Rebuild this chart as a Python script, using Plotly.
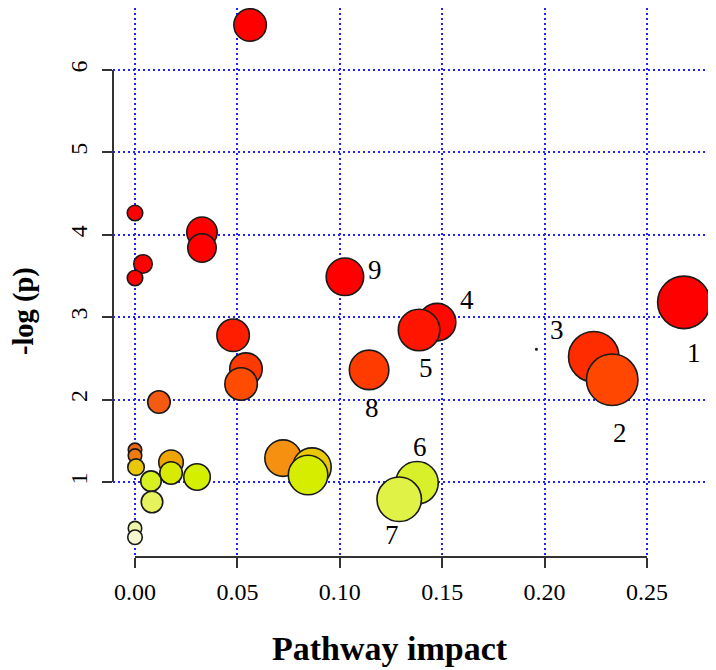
import plotly.graph_objects as go

# ---- data ----
impact = [0.0562, 0.000, 0.0327, 0.0327, 0.0039, 0.1025, 0.000, 0.268, 0.1475, 0.1387,
          0.0479, 0.196, 0.224, 0.0542, 0.1143, 0.233, 0.0518, 0.0117, 0.000, 0.000,
          0.0723, 0.0176, 0.0864, 0.0005, 0.0176, 0.0845, 0.0303, 0.0078, 0.1377, 0.129,
          0.0083, 0.000, 0.000]
neg_log_p = [6.546, 4.265, 4.03, 3.84, 3.646, 3.49, 3.476, 3.18, 2.94, 2.845,
             2.78, 2.61, 2.52, 2.37, 2.36, 2.24, 2.19, 1.97, 1.39, 1.32,
             1.29, 1.24, 1.18, 1.18, 1.11, 1.085, 1.06, 1.01, 0.99, 0.79,
             0.757, 0.44, 0.33]
node_size = [34, 17, 32, 30, 20, 39, 17, 54, 39, 43,
             34, 2, 52, 34, 41, 53, 34, 24, 15, 15,
             38, 26, 40, 18, 24, 41, 28, 22, 44, 46,
             23, 15, 16]
labels = ["", "", "", "", "", "9", "", "1", "4", "5",
          "", "3", "", "", "8", "2", "", "", "", "",
          "", "", "", "", "", "", "", "", "6", "7",
          "", "", ""]
x_ticks = [0.00, 0.05, 0.10, 0.15, 0.20, 0.25]
x_ticklabels = ["0.00", "0.05", "0.10", "0.15", "0.20", "0.25"]
y_ticks = [1, 2, 3, 4, 5, 6]
y_ticklabels = ["1", "2", "3", "4", "5", "6"]

# ---- styling ----
heat_scale = [
    [0.000, "#f8f9dc"], [0.052, "#eff5a8"], [0.170, "#e6f25e"], [0.185, "#e0f240"],
    [0.259, "#d8f028"], [0.281, "#d4f000"], [0.300, "#d8ea00"], [0.326, "#e8c808"],
    [0.348, "#f0a400"], [0.367, "#f59010"], [0.378, "#f07c10"], [0.404, "#ec6a14"],
    [0.619, "#f45a10"], [0.700, "#ff4c00"], [0.767, "#ff3a00"], [0.822, "#ff2c00"],
    [0.919, "#ff1e00"], [1.000, "#ff0000"],
]
label_offset = {  # pixel offset of the number label from its bubble centre (dx right, dy down)
    "1": (10, 51), "2": (8, 53), "3": (21, -19), "4": (30, -22), "5": (7, 38),
    "6": (3, -36), "7": (-7, 36), "8": (3, 38), "9": (30, -7),
}
SERIF = "Liberation Serif, Times New Roman, serif"
GRID = "#2222ff"
AXC = "#333333"

fig = go.Figure()
fig.add_trace(go.Scatter(
    x=impact, y=neg_log_p, mode="markers",
    marker=dict(size=[max(s - 1.5, 1.5) for s in node_size], sizemode="diameter",
                color=neg_log_p, colorscale=heat_scale, cmin=0.3, cmax=3.0,
                line=dict(color="#1a1a1a", width=1.6), opacity=1),
    cliponaxis=False, hoverinfo="x+y", showlegend=False,
))

for xi, yi, lab in zip(impact, neg_log_p, labels):
    if lab:
        dx, dy = label_offset[lab]
        fig.add_annotation(x=xi, y=yi, text=lab, showarrow=False, xshift=dx, yshift=-dy,
                           xanchor="center", yanchor="middle",
                           font=dict(family=SERIF, size=27, color="#000"))

# R-style axis lines spanning the tick range only
fig.add_shape(type="line", xref="x", yref="paper", x0=x_ticks[0], x1=x_ticks[-1], y0=0, y1=0,
              line=dict(color=AXC, width=2))
fig.add_shape(type="line", xref="paper", yref="y", x0=0, x1=0, y0=y_ticks[0], y1=y_ticks[-1],
              line=dict(color=AXC, width=2))

# axis titles
fig.add_annotation(xref="paper", yref="paper", x=0.467, y=-0.1658, xanchor="center", yanchor="middle",
                   text="<b>Pathway impact</b>",
                   showarrow=False, font=dict(family=SERIF, size=34, color="#000"))
fig.add_annotation(xref="paper", yref="paper", x=-0.150, y=0.448, xanchor="center", yanchor="middle",
                   text="<b>-log (p)</b>",
                   textangle=-90, showarrow=False, font=dict(family=SERIF, size=28.5, color="#000"))

fig.update_layout(
    width=716, height=670, margin=dict(l=105, r=18, t=0, b=121),
    paper_bgcolor="white", plot_bgcolor="white",
    xaxis=dict(range=[-0.01074, 0.2788], tickvals=x_ticks, ticktext=x_ticklabels,
               showgrid=True, gridcolor=GRID, gridwidth=2, griddash="2px,3px",
               zeroline=False, showline=False, ticks="outside", ticklen=10, tickwidth=2,
               tickcolor=AXC, ticklabelstandoff=3,
               tickfont=dict(family=SERIF, size=24, color="#000")),
    yaxis=dict(range=[0.0898, 6.752], tickvals=y_ticks, ticktext=y_ticklabels,
               showgrid=True, gridcolor=GRID, gridwidth=2, griddash="2px,3px",
               zeroline=False, showline=False, ticks="outside", ticklen=10, tickwidth=2,
               tickcolor=AXC, tickangle=-90, ticklabelstandoff=5,
               tickfont=dict(family=SERIF, size=24, color="#000")),
)

fig.write_html("out.html")
